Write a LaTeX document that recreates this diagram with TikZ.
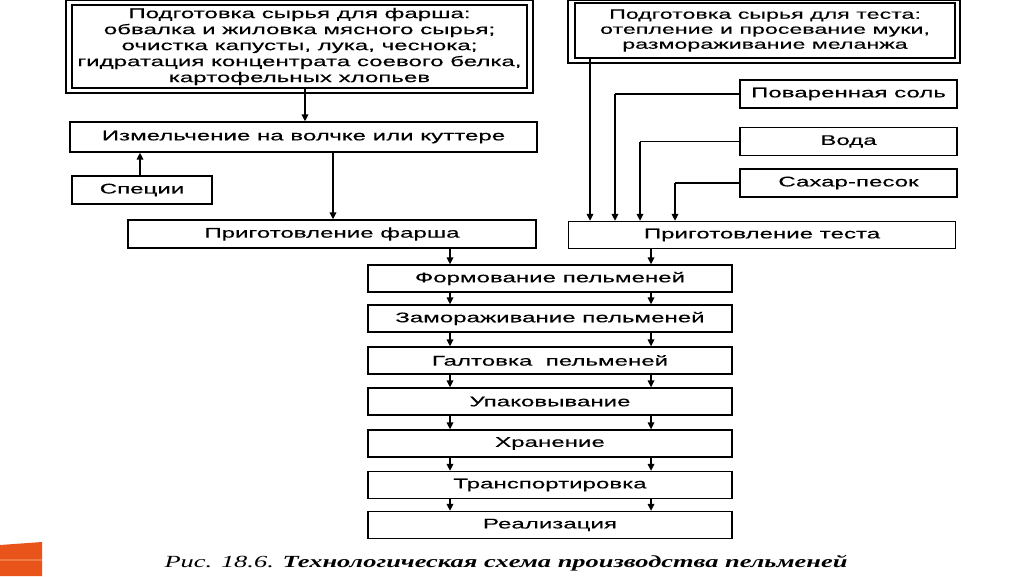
\documentclass[tikz,border=0pt]{standalone}
\usepackage{fontspec}
\setmainfont{Liberation Sans}
\newfontfamily\bxfont[FakeStretch=1.72,FakeBold=0.2]{Liberation Sans}
\newfontfamily\capfont[FakeStretch=1.555]{Liberation Serif}
\usetikzlibrary{arrows.meta}
\definecolor{orng}{HTML}{E8541A}
\definecolor{orngl}{HTML}{F07A45}
\tikzset{
  box/.style={draw=black, line width=1.3pt, inner sep=0pt, font=\bxfont\fontsize{14}{16}\selectfont, text=black},
  arr/.style={line width=1.6pt, -{Triangle[length=7pt,width=6.5pt]}},
  ln/.style={line width=1.6pt},
}
\begin{document}
\begin{tikzpicture}[x=1pt,y=-1pt]
\useasboundingbox (0,0) rectangle (1024,576);
\fill[white] (0,0) rectangle (1024,576);
% orange corner
\fill[orng] (0,545) -- (42,542) -- (42,576) -- (0,576) -- cycle;
\fill[orngl] (0,559) rectangle (42,561);

% top left double box
\draw[line width=1.6pt] (66,0) rectangle (533,93);
\node[box, minimum width=455pt, minimum height=83pt, align=center] (A) at (299.5,46.5)
  {Подготовка сырья для фарша:\\обвалка и жиловка мясного сырья;\\очистка капусты, лука, чеснока;\\гидратация концентрата соевого белка,\\картофельных хлопьев};

% top right double box
\draw[line width=1.6pt] (568,0) rectangle (960,63);
\node[box, minimum width=380pt, minimum height=55pt, align=center, font=\bxfont\fontsize{13.5}{15}\selectfont] (F) at (765,30.5)
  {Подготовка сырья для теста:\\отепление и просевание муки,\\размораживание меланжа};

\node[box, minimum width=467pt, minimum height=30pt] (B) at (303.5,137) {Измельчение на волчке или куттере};
\node[box, minimum width=140pt, minimum height=28pt] (C) at (142,190) {Специи};
\node[box, minimum width=408pt, minimum height=28pt] (D) at (332,234) {Приготовление фарша};
\node[box, minimum width=387pt, minimum height=27pt] (E) at (762,235) {Приготовление теста};

\node[box, minimum width=217pt, minimum height=28pt] (G) at (848.5,94) {Поваренная соль};
\node[box, minimum width=217pt, minimum height=28pt] (H) at (848.5,141.5) {Вода};
\node[box, minimum width=217pt, minimum height=28pt] (I) at (848.5,183) {Сахар-песок};

% chain
\node[box, minimum width=364pt, minimum height=27pt] (K1) at (550,278.5) {Формование пельменей};
\node[box, minimum width=364pt, minimum height=27pt] (K2) at (550,318.5) {Замораживание пельменей};
\node[box, minimum width=364pt, minimum height=27pt] (K3) at (550,360.5) {Галтовка\ \ пельменей};
\node[box, minimum width=364pt, minimum height=27pt] (K4) at (550,401.5) {Упаковывание};
\node[box, minimum width=364pt, minimum height=27pt] (K5) at (550,443.5) {Хранение};
\node[box, minimum width=364pt, minimum height=27pt] (K6) at (550,485) {Транспортировка};
\node[box, minimum width=364pt, minimum height=27pt] (K7) at (550,525) {Реализация};

% arrows left part
\draw[arr] (A.south -| 305,0) -- (B.north -| 305,0);
\draw[arr] (C.north -| 140,0) -- (B.south -| 140,0);
\draw[arr] (B.south -| 333,0) -- (D.north -| 333,0);

% arrows right part
\draw[arr] (F.south -| 590,0) -- (E.north -| 590,0);
\coordinate (g1) at (615,94);
\coordinate (h1) at (640,141.5);
\coordinate (i1) at (675,183);
\draw[ln] (G.west) -- (g1);
\draw[arr] (g1) -- (E.north -| g1);
\draw[ln] (H.west) -- (h1);
\draw[arr] (h1) -- (E.north -| h1);
\draw[ln] (I.west) -- (i1);
\draw[arr] (i1) -- (E.north -| i1);

% chain arrows
\draw[arr] (D.south -| 450,0) -- (K1.north -| 450,0);
\draw[arr] (E.south -| 651,0) -- (K1.north -| 651,0);
\foreach \a/\b in {K1/K2,K2/K3,K3/K4,K4/K5,K5/K6,K6/K7}{
  \draw[arr] (\a.south -| 450,0) -- (\b.north -| 450,0);
  \draw[arr] (\a.south -| 651,0) -- (\b.north -| 651,0);
}

% caption
\node[anchor=base, inner sep=0pt, font=\capfont\itshape\fontsize{17}{20}\selectfont] (cap) at (506,567)
  {Рис. 18.6. \textbf{Технологическая схема производства пельменей}};
\end{tikzpicture}
\end{document}
